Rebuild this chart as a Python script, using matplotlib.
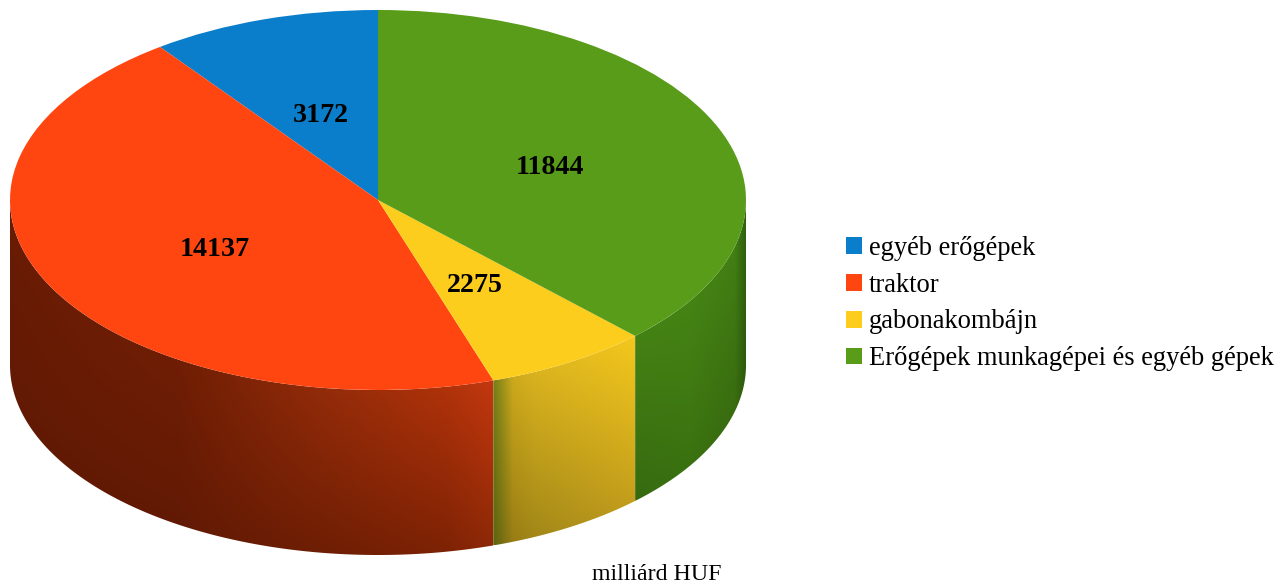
import numpy as np
import matplotlib
matplotlib.use("Agg")
import matplotlib.pyplot as plt
from matplotlib.patches import Polygon

# categories and values
labels = ['egyéb erőgépek', 'traktor', 'gabonakombájn', 'Erőgépek munkagépei és egyéb gépek']
values = [3172, 14137, 2275, 11844]
colors = ['#0a7ecb', '#ff4510', '#fccd1c', '#589c1a']

W, H = 1278, 583
plt.rcParams['font.family'] = ['Liberation Serif', 'DejaVu Sans']

fig = plt.figure(figsize=(W / 100, H / 100), dpi=100)
# the axes is exactly the bounding box of the top ellipse
ax = fig.add_axes([10 / W, (H - 390) / H, 736 / W, 380 / H])

wedges, _ = ax.pie(values, colors=colors, startangle=90, counterclock=True, radius=1,
                   wedgeprops={'linewidth': 0}, frame=True)
ax.set_aspect('auto')

depth = 165 / 190  # height of the side wall, in units of the vertical radius


def hex_rgb(c):
    return np.array(matplotlib.colors.to_rgb(c))


def side_wall(a1, a2, x_stops, top_colors, bottom_colors):
    # front wall of a slice, shaded with a gradient and clipped to the outline
    a1 = max(a1, 180)
    a2 = min(a2, 360)
    t = np.radians(np.linspace(a1, a2, 200))
    upper = np.column_stack([np.cos(t), np.sin(t)])
    lower = np.column_stack([np.cos(t), np.sin(t) - depth])
    outline = np.vstack([upper, lower[::-1]])
    x0, x1 = upper[:, 0].min(), upper[:, 0].max()
    y0, y1 = lower[:, 1].min(), upper[:, 1].max()

    xs = np.linspace(0, 1, 300)
    ys = np.linspace(0, 1, 200)[:, None, None]
    tops = np.column_stack([np.interp(xs, x_stops, [hex_rgb(c)[i] for c in top_colors]) for i in range(3)])
    bottoms = np.column_stack([np.interp(xs, x_stops, [hex_rgb(c)[i] for c in bottom_colors]) for i in range(3)])
    img = tops[None, :, :] * (1 - ys) + bottoms[None, :, :] * ys
    im = ax.imshow(img, extent=[x0, x1, y0, y1], origin='upper', aspect='auto',
                   interpolation='bilinear', zorder=0)
    patch = Polygon(outline, closed=True, transform=ax.transData, facecolor='none', edgecolor='none')
    patch.set_clip_on(False)
    ax.add_patch(patch)
    im.set_clip_path(patch)
    im.set_clip_box(fig.bbox)


fracs = np.cumsum(values) / sum(values)
angles = 90 + 360 * np.concatenate([[0], fracs])

# traktor, gabonakombajn, erogepek munkagepei (the blue slice has no visible wall)
side_wall(angles[1], angles[2],
          [0, 0.35, 0.65, 0.9, 1],
          ['#6b1c04', '#7c2204', '#bc3a10', '#e8440f', '#fc4818'],
          ['#5c1804', '#601904', '#6e1e04', '#7c2205', '#8c2806'])
side_wall(angles[2], angles[3],
          [0, 0.14, 0.3, 1],
          ['#78841a', '#dab41e', '#e6bc20', '#f4c81c'],
          ['#5a6410', '#987c14', '#a08618', '#b8941c'])
side_wall(angles[3], angles[4],
          [0, 0.5, 0.9, 1],
          ['#4f9418', '#4c8e16', '#458414', '#30620e'],
          ['#376a10', '#386e10', '#34620e', '#2a520c'])

ax.set_xlim(-1, 1)
ax.set_ylim(-1, 1)
ax.axis('off')
for w in wedges:
    w.set_zorder(3)

# value labels
label_pos = [(321, 115), (215, 249), (475, 286), (550, 168)]
for v, (px, py) in zip(values, label_pos):
    fig.text(px / W, 1 - py / H, str(v), fontsize=20.2, fontweight='bold',
             ha='center', va='center', color='black')

fig.legend(wedges, labels, loc='upper left', bbox_to_anchor=(835 / W, 1 - 225 / H),
           frameon=False, fontsize=19.1, handlelength=0.6, handleheight=0.6,
           handletextpad=0.27, labelspacing=0.45, borderpad=0.4, borderaxespad=0)

fig.text(657 / W, 1 - 575 / H, 'milliárd HUF', fontsize=17.2, ha='center', va='center')

fig.savefig('out.png', dpi=100)
